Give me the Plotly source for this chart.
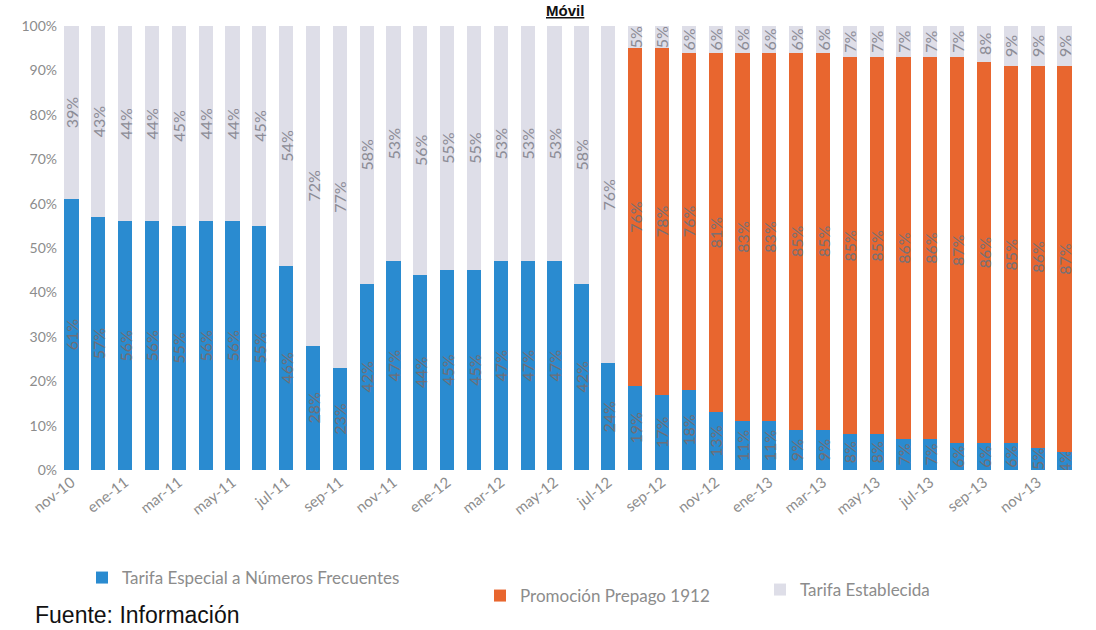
import plotly.graph_objects as go

# Meses (nov-10 a dic-13)
months = [
    "nov-10", "dic-10",
    "ene-11", "feb-11", "mar-11", "abr-11", "may-11", "jun-11",
    "jul-11", "ago-11", "sep-11", "oct-11", "nov-11", "dic-11",
    "ene-12", "feb-12", "mar-12", "abr-12", "may-12", "jun-12",
    "jul-12", "ago-12", "sep-12", "oct-12", "nov-12", "dic-12",
    "ene-13", "feb-13", "mar-13", "abr-13", "may-13", "jun-13",
    "jul-13", "ago-13", "sep-13", "oct-13", "nov-13", "dic-13",
]

# Participación (%) de cada tarifa por mes
especial = [61, 57, 56, 56, 55, 56, 56, 55, 46, 28, 23, 42, 47, 44, 45, 45,
            47, 47, 47, 42, 24,
            19, 17, 18, 13, 11, 11, 9, 9, 8, 8, 7, 7, 6, 6, 6, 5, 4]
promocion = [0] * 21 + [76, 78, 76, 81, 83, 83, 85, 85, 85, 85, 86, 86, 87,
                        86, 85, 86, 87]
establecida = [39, 43, 44, 44, 45, 44, 44, 45, 54, 72, 77, 58, 53, 56, 55, 55,
               53, 53, 53, 58, 76,
               5, 5, 6, 6, 6, 6, 6, 6, 7, 7, 7, 7, 7, 8, 9, 9, 9]

tick_months = months[::2]

BLUE = "#2A8BD0"
ORANGE = "#E8662F"
GREY = "#DEDEE8"
LABEL_FONT = "Lato, 'Open Sans', sans-serif"

W, H = 1096, 630
M_L, M_R, M_T, M_B = 58, 18, 26, 160
PLOT_W = W - M_L - M_R
PLOT_H = H - M_T - M_B


def pct_text(values):
    return [f"{v}%" if v else "" for v in values]


def paper_x(px):
    return (px - M_L) / PLOT_W


def paper_y(py):
    return (H - M_B - py) / PLOT_H


series = [
    ("Tarifa Especial a Números Frecuentes", especial, BLUE, "#6f6f78", "legend"),
    ("Promoción Prepago 1912", promocion, ORANGE, "#7a7072", "legend2"),
    ("Tarifa Establecida", establecida, GREY, "#8c8c96", "legend3"),
]

fig = go.Figure()
for name, vals, color, tcolor, leg in series:
    fig.add_trace(go.Bar(
        name=name,
        x=months,
        y=vals,
        marker=dict(color=color, line=dict(width=0)),
        text=pct_text(vals),
        textposition="inside",
        insidetextanchor="middle",
        textangle=-90,
        constraintext="none",
        textfont=dict(family=LABEL_FONT, size=16, color=tcolor),
        legend=leg,
        showlegend=True,
        hoverinfo="x+y+name",
    ))

legend_common = dict(
    orientation="h",
    xref="container",
    yref="container",
    yanchor="middle",
    bgcolor="rgba(0,0,0,0)",
    font=dict(family=LABEL_FONT, size=17, color="#8c8c8c"),
    itemwidth=30,
)

fig.update_layout(
    width=W,
    height=H,
    showlegend=True,
    barmode="stack",
    bargap=0.47,
    plot_bgcolor="white",
    paper_bgcolor="white",
    margin=dict(l=M_L, r=M_R, t=M_T, b=M_B),
    legend=dict(x=82 / W, xanchor="left", y=1 - 578 / H, **legend_common),
    legend2=dict(x=480 / W, xanchor="left", y=1 - 596 / H, **legend_common),
    legend3=dict(x=760 / W, xanchor="left", y=1 - 590 / H, **legend_common),
    xaxis=dict(
        type="category",
        tickmode="array",
        tickvals=tick_months,
        ticktext=tick_months,
        tickangle=-38,
        tickfont=dict(family=LABEL_FONT, size=15, color="#8c8c8c"),
        showgrid=False,
        showline=False,
        ticks="",
    ),
    yaxis=dict(
        range=[0, 100],
        tickmode="linear",
        tick0=0,
        dtick=10,
        ticksuffix="%",
        tickfont=dict(family=LABEL_FONT, size=14, color="#8c8c8c"),
        showgrid=False,
        zeroline=False,
        showline=False,
        ticks="",
    ),
    annotations=[
        dict(
            text="Fuente: Información",
            xref="paper", yref="paper",
            x=paper_x(33), y=paper_y(600),
            xanchor="left", yanchor="top",
            showarrow=False,
            font=dict(family="Liberation Sans, Arial, sans-serif", size=23,
                      color="#111111"),
        ),
        dict(
            text="<b><u>Móvil</u></b>",
            xref="paper", yref="paper",
            x=paper_x(565), y=paper_y(0),
            xanchor="center", yanchor="top",
            showarrow=False,
            font=dict(family="Liberation Sans, Arial, sans-serif", size=15,
                      color="#111111"),
        ),
    ],
)

fig.write_html("out.html")
